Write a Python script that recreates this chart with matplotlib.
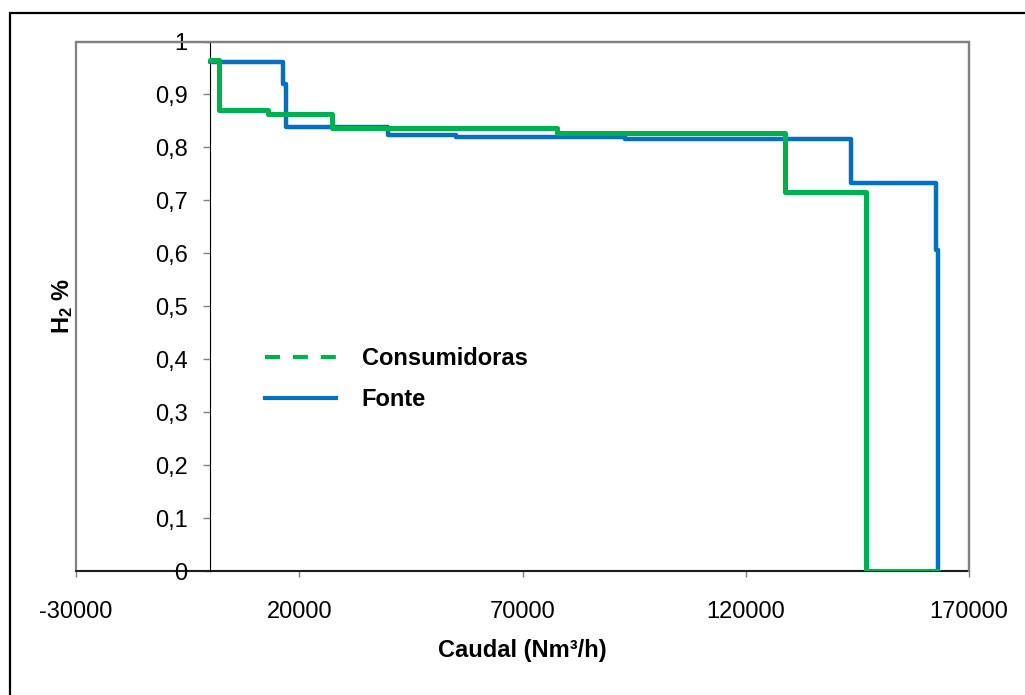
import matplotlib
matplotlib.use("Agg")
import matplotlib.pyplot as plt
from matplotlib.lines import Line2D
from matplotlib.patches import Rectangle
from matplotlib.ticker import FuncFormatter

plt.rcParams['font.family'] = ['Liberation Sans', 'DejaVu Sans']
plt.rcParams['mathtext.fontset'] = 'custom'
plt.rcParams['mathtext.rm'] = 'Liberation Sans:bold'

# Fonte (blue) step curve: x breakpoints and H2 fraction
fonte_x = [0, 16350, 17000, 39800, 55100, 93000, 143500, 162600, 163000]
fonte_y = [0.962, 0.920, 0.838, 0.824, 0.8195, 0.8165, 0.7334, 0.607, 0.0]

# Consumidoras (green) step curve
cons_x = [0, 2100, 12900, 27260, 77650, 128900, 147000, 163000]
cons_y = [0.965, 0.870, 0.864, 0.837, 0.827, 0.7157, 0.0, 0.0]

x_ticks = [-30000, 20000, 70000, 120000, 170000]
y_ticks = [0, 0.1, 0.2, 0.3, 0.4, 0.5, 0.6, 0.7, 0.8, 0.9, 1.0]

GREEN = '#00B050'
BLUE = '#0070C0'
GRAY = '#808080'


def ylab(v, p):
    s = f"{v:.1f}".replace('.', ',')
    return s[:-2] if s.endswith(',0') else s


fig = plt.figure(figsize=(10.25, 6.95), dpi=100)
ax = fig.add_axes([76/1025, (695-571)/695, (969-76)/1025, (571-41.5)/695])

ax.step(fonte_x, fonte_y, where='post', color=BLUE, lw=3.2, zorder=3,
        solid_joinstyle='round', solid_capstyle='round')
ax.step(cons_x, cons_y, where='post', color=GREEN, lw=3.7, zorder=4,
        solid_joinstyle='round', solid_capstyle='round')

ax.set_xlim(-30000, 170000)
ax.set_ylim(0, 1)
ax.set_xticks(x_ticks)
ax.set_yticks(y_ticks)
ax.xaxis.set_major_formatter(FuncFormatter(lambda v, p: f"{int(v)}"))
ax.yaxis.set_major_formatter(FuncFormatter(ylab))

# frame
ax.patch.set_edgecolor(GRAY)
ax.patch.set_linewidth(1.6)
for s in ['top', 'right']:
    ax.spines[s].set_color(GRAY)
    ax.spines[s].set_linewidth(1.6)
ax.spines['bottom'].set_color('black')
ax.spines['bottom'].set_linewidth(1.1)
ax.spines['bottom'].set_zorder(2)
ax.spines['left'].set_position(('data', 0))
ax.spines['left'].set_color('black')
ax.spines['left'].set_linewidth(0.8)

ax.tick_params(axis='x', direction='out', length=4.5, width=1, color=GRAY,
               labelsize=17, pad=17)
ax.tick_params(axis='y', direction='out', length=5, width=1, color=GRAY,
               labelsize=17, pad=11)

ax.set_xlabel('Caudal (Nm³/h)', fontsize=17, fontweight='bold')
ax.xaxis.set_label_coords(0.5, -0.128)
ax.set_ylabel(r'$\mathrm{H_2}$ %', fontsize=17, fontweight='bold')
ax.yaxis.set_label_coords(-0.001, 0.5)

handles = [Line2D([], [], color=GREEN, lw=3, linestyle=(0, (3.6, 3.1))),
           Line2D([], [], color=BLUE, lw=3)]
leg = ax.legend(handles, ['Consumidoras', 'Fonte'], loc='upper left',
                bbox_to_anchor=((265-76)/893, (571-347)/530), frameon=False,
                prop={'weight': 'bold', 'size': 17}, handlelength=3.0,
                handletextpad=1.1, labelspacing=0.75, borderpad=0,
                borderaxespad=0)

# outer border of the chart
fig.add_artist(Rectangle((10/1025, -0.05), 1.1, (695-13)/695 + 0.05,
                         transform=fig.transFigure, fill=False,
                         edgecolor='black', lw=1.6))

fig.savefig('out.png', dpi=100)
